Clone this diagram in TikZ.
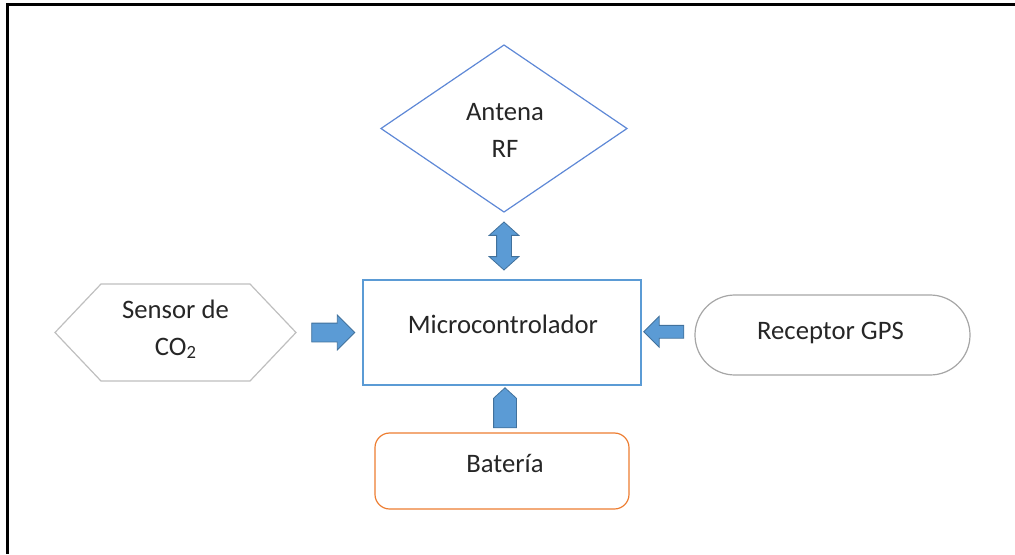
\documentclass[tikz,border=0pt]{standalone}
\usepackage{fontspec}
\setmainfont{Carlito}
\usetikzlibrary{shapes.geometric,shapes.arrows,calc}
\definecolor{rectblue}{RGB}{91,155,213}
\definecolor{diablue}{RGB}{94,136,214}
\definecolor{arrowfill}{RGB}{91,155,213}
\definecolor{arrowline}{RGB}{65,113,156}
\definecolor{hexgray}{RGB}{191,191,191}
\definecolor{gpsgray}{RGB}{166,166,166}
\definecolor{batorange}{RGB}{237,125,49}
\definecolor{txt}{RGB}{38,38,38}
\newcommand{\subtwo}{\raisebox{-0.12em}{\fontsize{14}{14}\selectfont 2}}
\begin{document}
\begin{tikzpicture}[x=0.75pt,y=-0.75pt,
  every node/.style={inner sep=0pt, outer sep=0pt, text=txt, font=\fontsize{20}{27.5}\selectfont, align=center},
  shapeline/.style={line width=0.9pt},
  blockarrow/.style={fill=arrowfill, draw=arrowline, line width=0.6pt, inner xsep=0pt},
  frameline/.style={line width=1.6pt, draw=black}
]
\useasboundingbox (0,0) rectangle (1015,554);
% frame
\coordinate (ftl) at (7.5,4.5);
\coordinate (ftr) at (1015,4.5);
\coordinate (fbl) at (7.5,554);
\draw[line width=2.6pt, draw=black!35] (ftr) -- (ftl) -- (fbl);
\draw[frameline] (ftr) -- (ftl) -- (fbl);

% nodes
\node[diamond, draw=diablue, shapeline, minimum width=184.5pt, minimum height=125.25pt] (antena) at (504,128.5) {};
\node at ($(antena.center)+(1,2)$) (antenatxt) {Antena\\RF};

\node[rectangle, draw=rectblue, shapeline, minimum width=208.5pt, minimum height=78.75pt] (micro) at (502,332.5) {};
\node at ($(micro.center)+(1,-8)$) (microtxt) {Microcontrolador};

\node[rectangle, minimum width=180.75pt, minimum height=72.75pt] (sensor) at (175.5,332.5) {};
\draw[hexgray, shapeline] (sensor.west) -- ($(sensor.north west)+(46,0)$) -- ($(sensor.north east)+(-46,0)$) -- (sensor.east) -- ($(sensor.south east)+(-46,0)$) -- ($(sensor.south west)+(46,0)$) -- cycle;
\node at ($(sensor.center)+(0,-3)$) (sensortxt) {Sensor de\\CO\subtwo};

\node[rectangle, rounded corners=29.9pt, draw=gpsgray, shapeline, minimum width=206.25pt, minimum height=60pt] (gps) at (832.5,335) {};
\node at ($(gps.center)+(-2,-2)$) (gpstxt) {Receptor GPS};

\node[rectangle, rounded corners=11pt, draw=batorange, shapeline, minimum width=190.5pt, minimum height=57pt] (bat) at (502,471) {};
\node at ($(bat.center)+(3,-8)$) (battxt) {Batería};

% block arrows
\node[single arrow, blockarrow, minimum height=32.25pt, inner ysep=6.75pt, single arrow head extend=6pt, single arrow tip angle=90] (ar1) at ($(sensor.east)!0.5!(micro.west)+(-1,0)$) {};
\node[single arrow, blockarrow, minimum height=30pt, inner ysep=4.5pt, single arrow head extend=6.75pt, single arrow tip angle=90, rotate=180] (ar2) at ($(gps.west)!0.5!(micro.east)+(-1,-2)$) {};
\node[single arrow, blockarrow, minimum height=30pt, inner ysep=8.25pt, single arrow head extend=0pt, single arrow tip angle=95, rotate=90] (ar3) at ($(micro.south)!0.5!(bat.north)+(3,4)$) {};
\node[double arrow, blockarrow, minimum height=36pt, inner ysep=5.25pt, double arrow head extend=5.6pt, double arrow tip angle=96, rotate=90] (ar4) at ($(antena.south)!0.5!(micro.north)+(1,0)$) {};
\end{tikzpicture}
\end{document}
